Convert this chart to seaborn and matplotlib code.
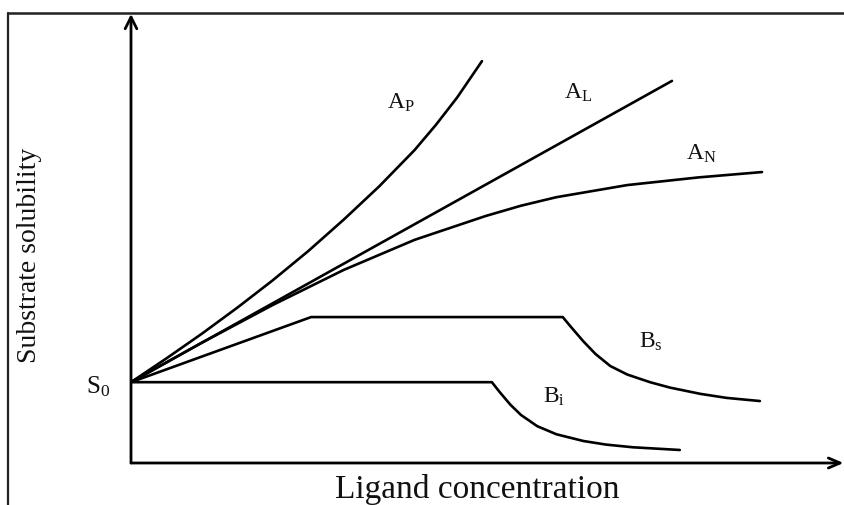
import matplotlib
matplotlib.use("Agg")
import matplotlib.pyplot as plt
from matplotlib.lines import Line2D
import seaborn as sns
import pandas as pd

# ---- data (arbitrary units) ----
ap_x = [0.0, 0.5, 1.0, 1.5, 2.0, 2.5, 3.0, 3.5, 4.0, 4.3, 4.6, 4.95]
ap_y = [1.80, 2.33, 2.88, 3.46, 4.07, 4.72, 5.42, 6.16, 6.97, 7.53, 8.14, 8.95]
al_x = [0.0, 7.63]
al_y = [1.80, 8.51]
an_x = [0.0, 1.0, 2.0, 3.0, 4.0, 5.0, 5.5, 6.0, 7.0, 8.0, 8.9]
an_y = [1.80, 2.68, 3.52, 4.30, 4.97, 5.50, 5.73, 5.92, 6.19, 6.36, 6.48]
bs_x = [0.0, 2.54, 6.09, 6.2, 6.38, 6.55, 6.76, 7.0, 7.32, 7.6, 8.03, 8.4, 8.87]
bs_y = [1.80, 3.25, 3.25, 3.04, 2.71, 2.43, 2.16, 1.97, 1.80, 1.68, 1.54, 1.45, 1.38]
bi_x = [0.0, 5.09, 5.2, 5.35, 5.5, 5.73, 6.0, 6.38, 6.7, 7.08, 7.74]
bi_y = [1.80, 1.80, 1.58, 1.30, 1.07, 0.82, 0.64, 0.49, 0.41, 0.35, 0.29]

series = {"AP": (ap_x, ap_y), "AL": (al_x, al_y), "AN": (an_x, an_y),
          "Bs": (bs_x, bs_y), "Bi": (bi_x, bi_y)}
rows = []
for name, (xs, ys) in series.items():
    for x, y in zip(xs, ys):
        rows.append({"curve": name, "x": x, "y": y})
df = pd.DataFrame(rows)

sns.set_theme(style="white")
plt.rcParams["font.family"] = ["Liberation Serif", "DejaVu Serif"]
plt.rcParams["mathtext.fontset"] = "custom"
plt.rcParams["mathtext.rm"] = "Liberation Serif"
plt.rcParams["mathtext.it"] = "Liberation Serif"

W, H = 844, 506
fig = plt.figure(figsize=(W / 100, H / 100), dpi=100)
fig.patch.set_facecolor("white")
ax = fig.add_axes([131 / W, (H - 464) / H, (840 - 131) / W, (464 - 15) / H])
ax.set_xlim(0, 10)
ax.set_ylim(0, 10)

sns.lineplot(data=df, x="x", y="y", hue="curve", units="curve", estimator=None,
             sort=False, palette=["black"] * 5, linewidth=1.9, legend=False, ax=ax)
for ln in ax.lines:
    ln.set_solid_joinstyle("round")
    ln.set_solid_capstyle("round")

for s in ax.spines.values():
    s.set_visible(False)
ax.set_xticks([])
ax.set_yticks([])
ax.set_xlabel("")
ax.set_ylabel("")

# axes with open arrows
ax.annotate("", xy=(0, 1.0), xytext=(0, 0), xycoords="axes fraction",
            arrowprops=dict(arrowstyle="->,head_length=0.7,head_width=0.35",
                            lw=2.0, color="black", shrinkA=0, shrinkB=0),
            annotation_clip=False)
ax.annotate("", xy=(1.005, 0), xytext=(0, 0), xycoords="axes fraction",
            arrowprops=dict(arrowstyle="->,head_length=0.7,head_width=0.3",
                            lw=2.0, color="black", shrinkA=0, shrinkB=0),
            annotation_clip=False)

# curve labels
lab_fs = 17
def px(xp, yp):
    return ((xp - 131) / 70.9, (464 - yp) / 44.9)

labels = [("A", "P", 401, 103), ("A", "L", 578, 93), ("A", "N", 701, 154),
          ("B", "s", 651, 342), ("B", "i", 554, 397), ("S", "0", 98, 387)]
for main, sub, xp, yp in labels:
    x, y = px(xp, yp)
    ax.text(x, y, r"$\mathrm{" + main + "}_{\mathrm{" + sub + "}}$",
            fontsize=lab_fs if main != "S" else 18,
            ha="center", va="center", color="#111111", clip_on=False)

# axis titles
fig.text(30 / W, (H - 255) / H, "Substrate solubility", rotation=90,
         fontsize=20, ha="center", va="center", color="#111111")
fig.text(477 / W, 0.5 / H, "Ligand concentration", fontsize=24,
         ha="center", va="bottom", color="#111111")

# outer frame (top and left edges)
fig.add_artist(Line2D([8 / W, 1.0], [(H - 13.5) / H] * 2, transform=fig.transFigure,
                      color="#222222", lw=1.8))
fig.add_artist(Line2D([8 / W, 8 / W], [0, (H - 13.5) / H], transform=fig.transFigure,
                      color="#222222", lw=1.6))

fig.savefig("out.png", dpi=100)
